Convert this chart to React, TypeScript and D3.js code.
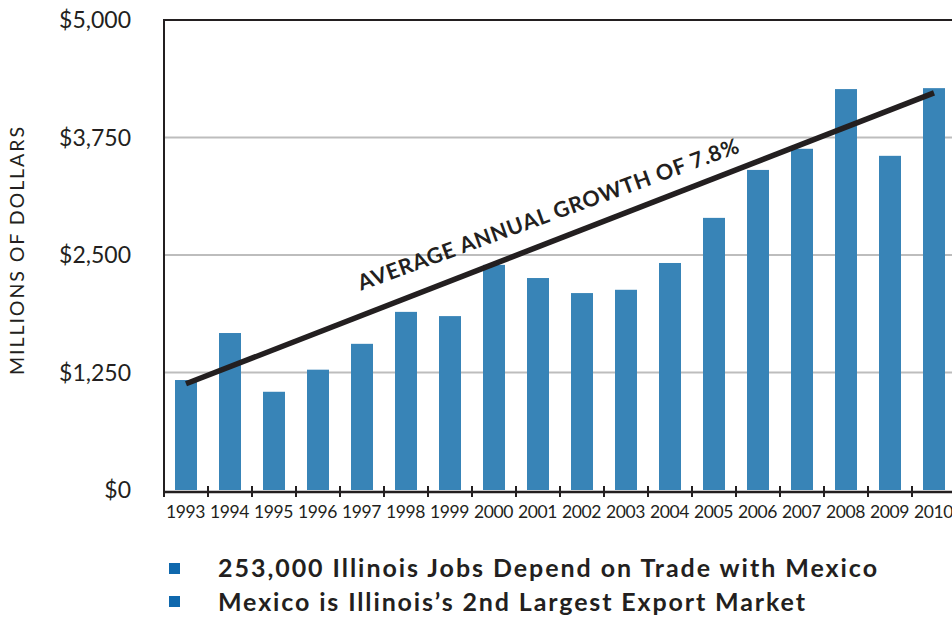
import React from 'react';
import * as d3 from 'd3';

// exports to Mexico, millions of dollars
const years = ['1993', '1994', '1995', '1996', '1997', '1998', '1999', '2000', '2001', '2002', '2003', '2004', '2005', '2006', '2007', '2008', '2009', '2010'];
const exportsValues = [1170, 1670, 1045, 1280, 1555, 1895, 1850, 2395, 2255, 2095, 2130, 2415, 2895, 3405, 3630, 4265, 3555, 4275];
const yTicks = [0, 1250, 2500, 3750, 5000];
const trendStart = 1130;
const trendEnd = 4225;
const trendLabel = 'AVERAGE ANNUAL GROWTH OF 7.8%';
const bullets = ['253,000 Illinois Jobs Depend on Trade with Mexico', 'Mexico is Illinois\u2019s 2nd Largest Export Market'];
const bulletWidths = [659, 587];

const width = 952;
const height = 618;
const marginLeft = 164;
const plotTop = 20;
const plotBottom = 490;

const App = () => {
  const x = d3.scaleBand()
    .domain(years)
    .range([marginLeft, marginLeft + years.length * 44])
    .paddingInner(0.5)
    .paddingOuter(0.25);

  const step = x.step();
  const bandStart = (d: string) => x(d)! - step * 0.25; // left edge of the category slot

  const y = d3.scaleLinear().domain([0, 5000]).range([plotBottom, plotTop]);

  const x1 = x(years[0])! + x.bandwidth() / 2;
  const x2 = x(years[years.length - 1])! + x.bandwidth() / 2;
  const y1 = y(trendStart);
  const y2 = y(trendEnd);
  const angle = (Math.atan2(y2 - y1, x2 - x1) * 180) / Math.PI;

  const font = 'Lato, "Open Sans", sans-serif';
  const fmt = (v: number) => '$' + d3.format(',')(v);

  // label sits above the line, a touch flatter than it
  const labelT = 0.234;
  const lx = x1 + (x2 - x1) * labelT;
  const ly = y1 + (y2 - y1) * labelT - 25;

  return (
    <svg width={width} height={height} style={{ position: 'absolute', left: 0, top: 0, background: '#fff' }}>
      {/* gridlines */}
      {yTicks.filter(t => t > 0 && t < 5000).map(t => (
        <line key={t} x1={marginLeft} x2={width} y1={y(t)} y2={y(t)} stroke="#bdbdbd" strokeWidth={2} />
      ))}
      <line x1={marginLeft} x2={width} y1={y(5000)} y2={y(5000)} stroke="#231f20" strokeWidth={2} />

      {/* bars */}
      {years.map((yr, i) => (
        <rect key={yr} x={x(yr)} y={y(exportsValues[i])} width={x.bandwidth()} height={y(0) - y(exportsValues[i])} fill="#3884b7" />
      ))}

      {/* axes */}
      <line x1={marginLeft} x2={marginLeft} y1={plotTop - 1} y2={y(0) + 7} stroke="#231f20" strokeWidth={2} />
      <line x1={marginLeft} x2={width} y1={y(0) + 2} y2={y(0) + 2} stroke="#231f20" strokeWidth={2.5} />
      {years.map(yr => (
        <line key={'t' + yr} x1={bandStart(yr)} x2={bandStart(yr)} y1={y(0) - 4} y2={y(0) + 7} stroke="#231f20" strokeWidth={2} />
      ))}
      {years.map(yr => (
        <text key={'l' + yr} x={x(yr)! + x.bandwidth() / 2 - 0.5} y={518} textAnchor="middle" fontFamily={font} fontSize={17.5} letterSpacing={-0.4} fill="#231f20">{yr}</text>
      ))}

      {yTicks.map(t => (
        <text key={'y' + t} x={131} y={y(t) + 8} textAnchor="end" fontFamily={font} fontSize={23} fill="#231f20">{fmt(t)}</text>
      ))}

      <text transform={`translate(24,251) rotate(-90)`} textAnchor="middle" fontFamily={font} fontSize={19.5} fill="#231f20" textLength={248} lengthAdjust="spacing">MILLIONS OF DOLLARS</text>

      {/* trend line */}
      <line x1={x1} y1={y1} x2={x2} y2={y2} stroke="#231f20" strokeWidth={5.5} />
      <g transform={`translate(${lx},${ly}) rotate(${angle + 1.2})`}>
        <text x={0} y={0} fontFamily={font} fontWeight={700} fontSize={21.5} fill="#231f20" textLength={404} lengthAdjust="spacing">{trendLabel}</text>
      </g>

      {/* bullets */}
      {bullets.map((b, i) => (
        <g key={b}>
          <rect x={169} y={563 + i * 33} width={11} height={11} fill="#0f68ad" />
          <text x={218} y={577 + i * 34} fontFamily={font} fontWeight={700} fontSize={25} fill="#231f20" textLength={bulletWidths[i]} lengthAdjust="spacing">{b}</text>
        </g>
      ))}
    </svg>
  );
};

export default App;
